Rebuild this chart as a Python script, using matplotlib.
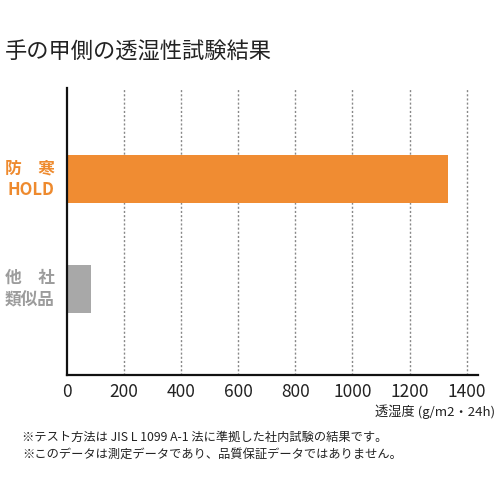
import matplotlib
matplotlib.use("Agg")
import matplotlib.pyplot as plt

plt.rcParams['font.family'] = ['Noto Sans CJK JP', 'DejaVu Sans']

# data
labels = ['他　社\n類似品', '防　寒\nHOLD']
values = [85, 1335]
bar_colors = ['#a8a8a8', '#f08c32']
label_colors = ['#9c9c9c', '#ee8a2e']
xticks = [0, 200, 400, 600, 800, 1000, 1200, 1400]

title = '手の甲側の透湿性試験結果'
xlabel = '透湿度 (g/m2・24h)'
notes = ['※テスト方法は JIS L 1099 A-1 法に準拠した社内試験の結果です。',
         '※このデータは測定データであり、品質保証データではありません。']

fig = plt.figure(figsize=(5, 5), dpi=100)
ax = fig.add_axes([0.134, 0.25, 0.822, 0.574])

ypos = list(range(len(values)))
ax.barh(ypos, values, height=0.44, color=bar_colors, zorder=2)

ax.set_xlim(0, 1440)
ax.set_ylim(-0.78, 1.83)
ax.set_xticks(xticks)
ax.set_xticklabels([str(t) for t in xticks], fontsize=12.5, color='#222222')
ax.set_yticks([])
for t in xticks[1:]:
    ax.axvline(t, color='#888888', lw=1, ls=(0, (1.5, 1.5)), zorder=1)

for s in ['top', 'right']:
    ax.spines[s].set_visible(False)
for s in ['left', 'bottom']:
    ax.spines[s].set_linewidth(1.6)
    ax.spines[s].set_color('#111111')
ax.tick_params(axis='x', length=0, pad=6)

for y, lab, c in zip(ypos, labels, label_colors):
    ax.text(-0.03, y, lab, transform=ax.get_yaxis_transform(), ha='right', va='center',
            fontsize=12, fontweight='bold', color=c, linespacing=1.3)

fig.text(0.01, 0.896, title, fontsize=16, color='#222222', va='center', ha='left')
fig.text(0.99, 0.176, xlabel, fontsize=9.5, color='#222222', ha='right', va='center')
fig.text(0.044, 0.126, notes[0], fontsize=8.8, color='#222222', va='center')
fig.text(0.044, 0.092, notes[1], fontsize=8.8, color='#222222', va='center')

fig.savefig('out.png', dpi=100)
